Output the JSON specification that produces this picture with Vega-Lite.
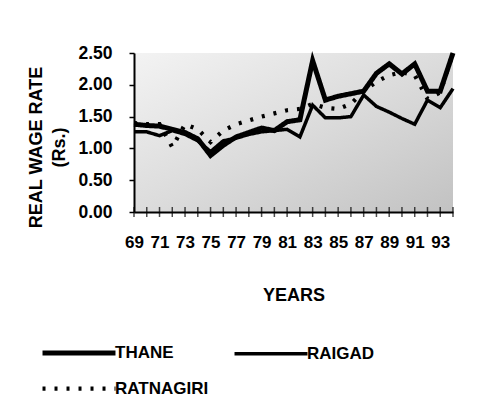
{
  "$schema": "https://vega.github.io/schema/vega-lite/v6.json",
  "autosize": "none",
  "padding": {"left": 134, "top": 53, "right": 51, "bottom": 201},
  "width": 319,
  "height": 159,
  "background": "white",
  "config": {
    "font": "Liberation Sans",
    "view": {
      "stroke": null,
      "fill": {"gradient": "linear", "x1": 0, "y1": 0, "x2": 1, "y2": 1,
        "stops": [{"offset": 0, "color": "#f3f3f3"}, {"offset": 0.5, "color": "#dcdcdc"}, {"offset": 1, "color": "#c2c2c2"}]}
    }
  },
  "data": {
    "values": [
      {"year": 69, "district": "THANE", "rate": 1.38}, {"year": 70, "district": "THANE", "rate": 1.36},
      {"year": 71, "district": "THANE", "rate": 1.35}, {"year": 72, "district": "THANE", "rate": 1.30},
      {"year": 73, "district": "THANE", "rate": 1.25}, {"year": 74, "district": "THANE", "rate": 1.15},
      {"year": 75, "district": "THANE", "rate": 0.89}, {"year": 76, "district": "THANE", "rate": 1.05},
      {"year": 77, "district": "THANE", "rate": 1.18}, {"year": 78, "district": "THANE", "rate": 1.25},
      {"year": 79, "district": "THANE", "rate": 1.32}, {"year": 80, "district": "THANE", "rate": 1.28},
      {"year": 81, "district": "THANE", "rate": 1.42}, {"year": 82, "district": "THANE", "rate": 1.45},
      {"year": 83, "district": "THANE", "rate": 2.38}, {"year": 84, "district": "THANE", "rate": 1.76},
      {"year": 85, "district": "THANE", "rate": 1.82}, {"year": 86, "district": "THANE", "rate": 1.86},
      {"year": 87, "district": "THANE", "rate": 1.90}, {"year": 88, "district": "THANE", "rate": 2.18},
      {"year": 89, "district": "THANE", "rate": 2.33}, {"year": 90, "district": "THANE", "rate": 2.17},
      {"year": 91, "district": "THANE", "rate": 2.33}, {"year": 92, "district": "THANE", "rate": 1.90},
      {"year": 93, "district": "THANE", "rate": 1.90}, {"year": 94, "district": "THANE", "rate": 2.50},
      {"year": 69, "district": "RAIGAD", "rate": 1.26}, {"year": 70, "district": "RAIGAD", "rate": 1.26},
      {"year": 71, "district": "RAIGAD", "rate": 1.20}, {"year": 72, "district": "RAIGAD", "rate": 1.28},
      {"year": 73, "district": "RAIGAD", "rate": 1.22}, {"year": 74, "district": "RAIGAD", "rate": 1.12},
      {"year": 75, "district": "RAIGAD", "rate": 0.95}, {"year": 76, "district": "RAIGAD", "rate": 1.12},
      {"year": 77, "district": "RAIGAD", "rate": 1.16}, {"year": 78, "district": "RAIGAD", "rate": 1.22},
      {"year": 79, "district": "RAIGAD", "rate": 1.26}, {"year": 80, "district": "RAIGAD", "rate": 1.28},
      {"year": 81, "district": "RAIGAD", "rate": 1.30}, {"year": 82, "district": "RAIGAD", "rate": 1.18},
      {"year": 83, "district": "RAIGAD", "rate": 1.68}, {"year": 84, "district": "RAIGAD", "rate": 1.48},
      {"year": 85, "district": "RAIGAD", "rate": 1.48}, {"year": 86, "district": "RAIGAD", "rate": 1.50},
      {"year": 87, "district": "RAIGAD", "rate": 1.84}, {"year": 88, "district": "RAIGAD", "rate": 1.66},
      {"year": 89, "district": "RAIGAD", "rate": 1.57}, {"year": 90, "district": "RAIGAD", "rate": 1.47},
      {"year": 91, "district": "RAIGAD", "rate": 1.38}, {"year": 92, "district": "RAIGAD", "rate": 1.76},
      {"year": 93, "district": "RAIGAD", "rate": 1.64}, {"year": 94, "district": "RAIGAD", "rate": 1.94},
      {"year": 69, "district": "RATNAGIRI", "rate": 1.40}, {"year": 70, "district": "RATNAGIRI", "rate": 1.38},
      {"year": 71, "district": "RATNAGIRI", "rate": 1.38}, {"year": 72, "district": "RATNAGIRI", "rate": 1.02},
      {"year": 73, "district": "RATNAGIRI", "rate": 1.38}, {"year": 74, "district": "RATNAGIRI", "rate": 1.30},
      {"year": 75, "district": "RATNAGIRI", "rate": 1.10}, {"year": 76, "district": "RATNAGIRI", "rate": 1.28},
      {"year": 77, "district": "RATNAGIRI", "rate": 1.38}, {"year": 78, "district": "RATNAGIRI", "rate": 1.44},
      {"year": 79, "district": "RATNAGIRI", "rate": 1.50}, {"year": 80, "district": "RATNAGIRI", "rate": 1.55},
      {"year": 81, "district": "RATNAGIRI", "rate": 1.60}, {"year": 82, "district": "RATNAGIRI", "rate": 1.62},
      {"year": 83, "district": "RATNAGIRI", "rate": 1.70}, {"year": 84, "district": "RATNAGIRI", "rate": 1.64},
      {"year": 85, "district": "RATNAGIRI", "rate": 1.62}, {"year": 86, "district": "RATNAGIRI", "rate": 1.70},
      {"year": 87, "district": "RATNAGIRI", "rate": 1.90}, {"year": 88, "district": "RATNAGIRI", "rate": 2.05},
      {"year": 89, "district": "RATNAGIRI", "rate": 2.15}, {"year": 90, "district": "RATNAGIRI", "rate": 2.20},
      {"year": 91, "district": "RATNAGIRI", "rate": 2.15}, {"year": 92, "district": "RATNAGIRI", "rate": 1.78},
      {"year": 93, "district": "RATNAGIRI", "rate": 1.88}, {"year": 94, "district": "RATNAGIRI", "rate": 2.50}
    ]
  },
  "encoding": {
    "x": {
      "field": "year", "type": "quantitative",
      "scale": {"domain": [69, 94], "nice": false, "zero": false},
      "axis": {
        "title": "YEARS", "titlePadding": 36,
        "titleFont": "Liberation Sans", "titleFontWeight": "bold", "titleFontSize": 18, "titleColor": "#000",
        "values": [69,70,71,72,73,74,75,76,77,78,79,80,81,82,83,84,85,86,87,88,89,90,91,92,93,94],
        "labelExpr": "datum.value % 2 == 1 ? datum.value : ''",
        "ticks": false, "labelPadding": 22, "labelFlush": false, "labelOverlap": false, "labelBound": false,
        "labelFont": "Liberation Sans", "labelFontWeight": "bold", "labelFontSize": 17, "labelColor": "#000",
        "domainColor": "#000", "domainWidth": 2, "grid": false
      }
    }
  },
  "layer": [
    {
      "mark": {"type": "line", "color": "#000", "clip": false},
      "encoding": {
        "y": {
          "field": "rate", "type": "quantitative",
          "scale": {"domain": [0, 2.5], "nice": false},
          "axis": {
            "title": ["REAL WAGE RATE", "(Rs.)"], "titleLineHeight": 23, "titlePadding": 9, "titleY": 94,
            "titleFont": "Liberation Sans", "titleFontWeight": "bold", "titleFontSize": 18, "titleColor": "#000",
            "values": [0, 0.5, 1, 1.5, 2, 2.5], "format": ".2f", "labelOverlap": false, "labelFlush": false,
            "tickSize": 5, "tickColor": "#000", "tickWidth": 1.5, "labelPadding": 17,
            "labelFont": "Liberation Sans", "labelFontWeight": "bold", "labelFontSize": 17.5, "labelColor": "#000",
            "domainColor": "#000", "domainWidth": 2, "grid": false
          }
        },
        "strokeDash": {
          "field": "district", "type": "nominal",
          "scale": {"domain": ["THANE", "RATNAGIRI", "RAIGAD"], "range": [[1, 0], [3, 9], [1, 0]]},
          "legend": {
            "title": null, "orient": "none", "legendX": -65, "legendY": 290,
            "columns": 2, "columnPadding": 18, "rowPadding": 16,
            "symbolType": "M-5,0H5", "symbolSize": 213, "symbolStrokeColor": "#000",
            "labelFont": "Liberation Sans", "labelFontWeight": "bold", "labelFontSize": 17, "labelColor": "#000",
            "labelOffset": 26, "padding": 0
          }
        },
        "strokeWidth": {
          "field": "district", "type": "nominal",
          "scale": {"domain": ["THANE", "RATNAGIRI", "RAIGAD"], "range": [5, 3.5, 4.5]},
          "legend": {
            "title": null, "orient": "none", "legendX": -65, "legendY": 290,
            "columns": 2, "columnPadding": 18, "rowPadding": 16,
            "symbolType": "M-5,0H5", "symbolSize": 213, "symbolStrokeColor": "#000",
            "labelFont": "Liberation Sans", "labelFontWeight": "bold", "labelFontSize": 17, "labelColor": "#000",
            "labelOffset": 26, "padding": 0
          }
        }
      }
    },
    {
      "transform": [{"filter": "datum.district == 'THANE'"}],
      "mark": {"type": "tick", "orient": "vertical", "color": "#000", "thickness": 1.5, "size": 10, "clip": false},
      "encoding": {
        "y": {
          "datum": 0, "type": "quantitative",
          "axis": {
            "title": ["REAL WAGE RATE", "(Rs.)"], "titleLineHeight": 23, "titlePadding": 9, "titleY": 94,
            "titleFont": "Liberation Sans", "titleFontWeight": "bold", "titleFontSize": 18, "titleColor": "#000",
            "values": [0, 0.5, 1, 1.5, 2, 2.5], "format": ".2f", "labelOverlap": false, "labelFlush": false,
            "tickSize": 5, "tickColor": "#000", "tickWidth": 1.5, "labelPadding": 17,
            "labelFont": "Liberation Sans", "labelFontWeight": "bold", "labelFontSize": 17.5, "labelColor": "#000",
            "domainColor": "#000", "domainWidth": 2, "grid": false
          }
        }
      }
    }
  ]
}
